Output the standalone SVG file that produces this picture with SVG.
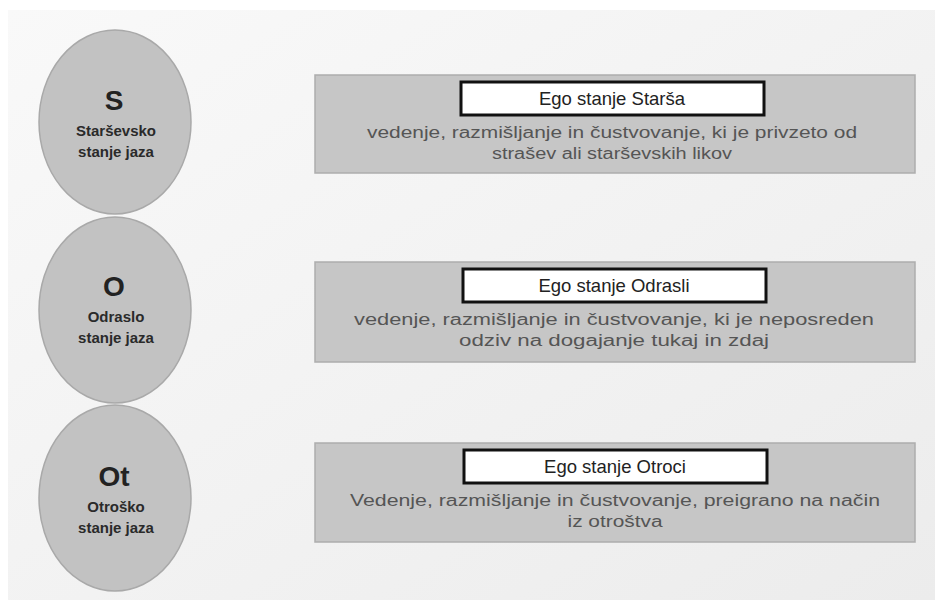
<svg xmlns="http://www.w3.org/2000/svg" width="935" height="610" viewBox="0 0 935 610">
<defs>
<linearGradient id="bg" x1="0" y1="0" x2="1" y2="1">
<stop offset="0" stop-color="#f9f9f9"/>
<stop offset="1" stop-color="#ececec"/>
</linearGradient>
</defs>
<style>
.circ{fill:#c2c2c2;stroke:#a9a9a9;stroke-width:1.5}
.big{font-family:"Liberation Sans",Arial,sans-serif;font-weight:bold;font-size:28px;fill:#222;text-anchor:middle}
.lbl{font-family:"Liberation Sans",Arial,sans-serif;font-weight:bold;font-size:15px;fill:#2a2a2a;text-anchor:middle}
.box{fill:#c6c6c6;stroke:#adadad;stroke-width:1.5}
.tbox{fill:#fff;stroke:#111;stroke-width:3}
.ttl{font-family:"Liberation Sans",Arial,sans-serif;font-size:18.5px;fill:#222;text-anchor:middle}
.desc{font-family:"Liberation Sans",Arial,sans-serif;font-size:16px;fill:#555;text-anchor:middle}
</style>
<rect width="935" height="610" fill="#fff"/>
<rect x="8" y="10" width="927" height="590" fill="url(#bg)"/>
<g id="circle-s">
<ellipse class="circ" cx="115" cy="122" rx="76" ry="92"/>
<text class="big" x="114" y="110">S</text>
<text class="lbl" x="116" y="136">Starševsko</text>
<text class="lbl" x="116" y="157">stanje jaza</text>
</g>
<g id="circle-o">
<ellipse class="circ" cx="115" cy="310" rx="76" ry="93"/>
<text class="big" x="114" y="296">O</text>
<text class="lbl" x="116" y="322">Odraslo</text>
<text class="lbl" x="116" y="343">stanje jaza</text>
</g>
<g id="circle-ot">
<ellipse class="circ" cx="115" cy="498" rx="76" ry="93"/>
<text class="big" x="114" y="486">Ot</text>
<text class="lbl" x="116" y="512">Otroško</text>
<text class="lbl" x="116" y="533">stanje jaza</text>
</g>
<g id="box-s">
<rect class="box" x="315" y="75" width="600" height="98"/>
<rect class="tbox" x="461" y="82" width="303" height="33"/>
<text class="ttl" x="612" y="105">Ego stanje Starša</text>
<text class="desc" x="612" y="138" textLength="490" lengthAdjust="spacingAndGlyphs">vedenje, razmišljanje in čustvovanje, ki je privzeto od</text>
<text class="desc" x="612" y="159" textLength="240" lengthAdjust="spacingAndGlyphs">strašev ali starševskih likov</text>
</g>
<g id="box-o">
<rect class="box" x="315" y="262" width="600" height="100"/>
<rect class="tbox" x="463" y="269" width="303" height="33"/>
<text class="ttl" x="614" y="292">Ego stanje Odrasli</text>
<text class="desc" x="614" y="325" textLength="520" lengthAdjust="spacingAndGlyphs">vedenje, razmišljanje in čustvovanje, ki je neposreden</text>
<text class="desc" x="614" y="346" textLength="310" lengthAdjust="spacingAndGlyphs">odziv na dogajanje tukaj in zdaj</text>
</g>
<g id="box-ot">
<rect class="box" x="315" y="443" width="600" height="99"/>
<rect class="tbox" x="464" y="450" width="303" height="33"/>
<text class="ttl" x="615" y="473">Ego stanje Otroci</text>
<text class="desc" x="615" y="506" textLength="530" lengthAdjust="spacingAndGlyphs">Vedenje, razmišljanje in čustvovanje, preigrano na način</text>
<text class="desc" x="615" y="527" textLength="95" lengthAdjust="spacingAndGlyphs">iz otroštva</text>
</g>
<g id="connectors"></g>
</svg>
